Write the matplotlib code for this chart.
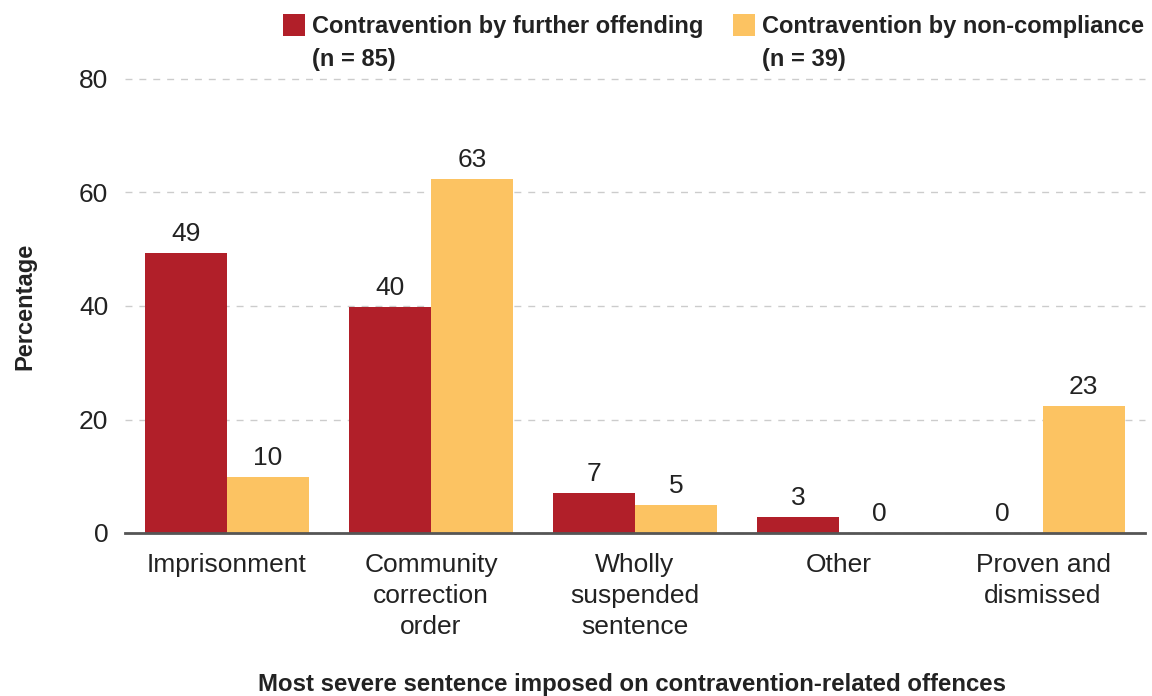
import matplotlib
matplotlib.use("Agg")
import matplotlib.pyplot as plt
from matplotlib.patches import Rectangle
import numpy as np

categories = ["Imprisonment", "Community\ncorrection\norder", "Wholly\nsuspended\nsentence", "Other", "Proven and\ndismissed"]
further_offending = [49.4, 39.8, 7.0, 2.8, 0.0]
non_compliance = [9.9, 62.4, 4.9, 0.0, 22.4]
further_labels = ["49", "40", "7", "3", "0"]
noncomp_labels = ["10", "63", "5", "0", "23"]
series_names = ["Contravention by further offending\n(n = 85)", "Contravention by non-compliance\n(n = 39)"]
yticks = [0, 20, 40, 60, 80]

RED = "#B11F29"
YELLOW = "#FCC362"
TXT = "#222222"
FS = 19

plt.rcParams['font.family'] = ['Liberation Sans', 'DejaVu Sans']

W, H = 1152, 696
fig = plt.figure(figsize=(W / 100, H / 100), dpi=100)
ax = fig.add_axes([125 / W, 1 - 533 / H, (1145 - 125) / W, (533 - 79) / H])

x = np.arange(len(categories))
bw = 0.4
b1 = ax.bar(x - bw / 2, further_offending, bw, color=RED, zorder=3)
b2 = ax.bar(x + bw / 2, non_compliance, bw, color=YELLOW, zorder=3)

for bars, labels in [(b1, further_labels), (b2, noncomp_labels)]:
    for rect, lab in zip(bars, labels):
        ax.annotate(lab, (rect.get_x() + rect.get_width() / 2, rect.get_height()),
                    xytext=(0, 5.0), textcoords="offset points", ha="center", va="bottom",
                    fontsize=FS, color=TXT)

ax.set_xlim(-0.5, len(categories) - 0.5)
ax.set_ylim(0, 80)
ax.set_yticks(yticks)
ax.set_yticklabels([str(t) for t in yticks], fontsize=FS, color=TXT)
ax.set_xticks(x)
ax.set_xticklabels(categories, fontsize=FS, color=TXT, linespacing=1.36, va="top")
ax.tick_params(axis="both", length=0)
ax.tick_params(axis="y", pad=12)
ax.tick_params(axis="x", pad=14.5)

for s in ["top", "right", "left"]:
    ax.spines[s].set_visible(False)
ax.spines["bottom"].set_color("#555555")
ax.spines["bottom"].set_linewidth(2)
ax.spines["bottom"].set_zorder(4)

ax.yaxis.grid(True, color="#CCCCCC", linestyle=(0, (5, 5)), linewidth=1, zorder=0)
for gl in ax.yaxis.get_gridlines():
    gl.set_clip_on(False)
ax.set_axisbelow(True)

fig.text(25 / W, 1 - 306 / H, "Percentage", rotation=90, ha="center", va="center",
         fontsize=17, fontweight="bold", color=TXT)

fig.text(632 / W, 1 - 684 / H, "Most severe sentence imposed on contravention-related offences",
         ha="center", va="center", fontsize=17.3, fontweight="bold", color=TXT)

# legend
for (x0, col, name) in [(283, RED, series_names[0]), (733, YELLOW, series_names[1])]:
    fig.patches.append(Rectangle((x0 / W, 1 - 36 / H), 22 / W, 22 / H, transform=fig.transFigure,
                                 facecolor=col, edgecolor="none"))
    fig.text((x0 + 29) / W, 1 - 15.5 / H, name, ha="left", va="top", fontsize=17,
             fontweight="bold", color=TXT, linespacing=1.55)

fig.savefig("out.png", dpi=100, facecolor="white")
